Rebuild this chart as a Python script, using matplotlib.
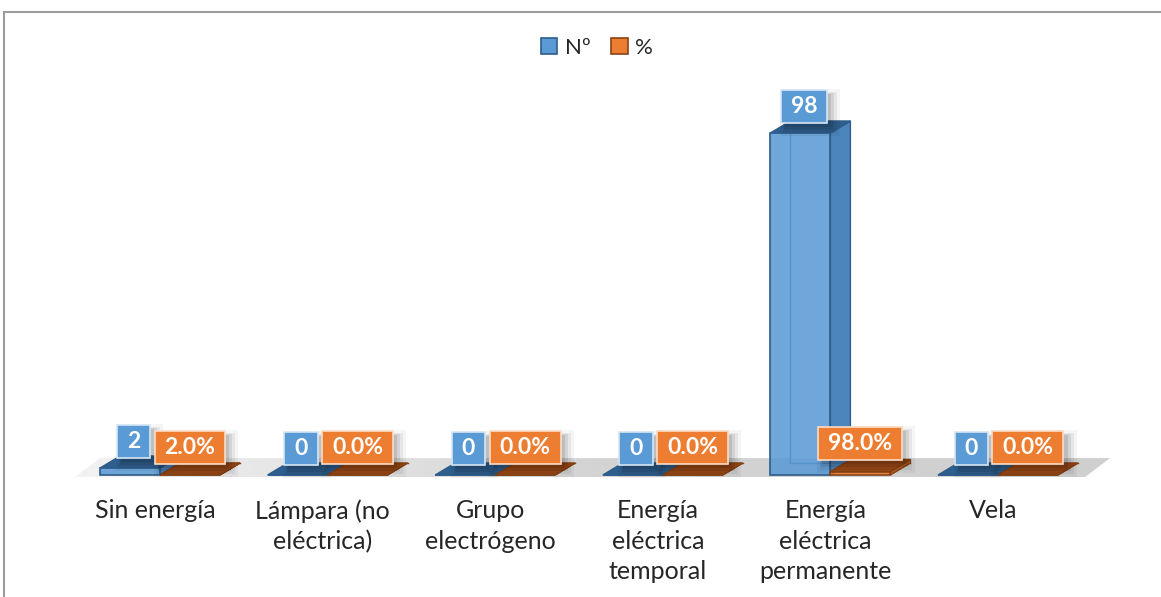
import matplotlib
matplotlib.use("Agg")
import matplotlib.pyplot as plt
import numpy as np
from matplotlib.patches import Polygon, Rectangle, Patch
from matplotlib.colors import to_rgba

# ---- data -------------------------------------------------------------
categories = ["Sin energía", "Lámpara (no\neléctrica)", "Grupo\nelectrógeno",
              "Energía\neléctrica\ntemporal", "Energía\neléctrica\npermanente", "Vela"]
counts = [2, 0, 0, 0, 98, 0]
shares = [0.02, 0.0, 0.0, 0.0, 0.98, 0.0]
series_names = ["Nº", "%"]

# ---- styling ----------------------------------------------------------
FONT = ["Lato", "DejaVu Sans"]
plt.rcParams["font.family"] = FONT

BLUE = dict(front="#5B9BD5", side="#4C84BC", top="#2F5F8F", edge="#2E5C8A",
            label="#5B9BD5", label_edge="#D6E6F5")
ORANGE = dict(front="#ED7D31", side="#B8601F", top="#9A4A17", edge="#8A4214",
              label="#ED7D31", label_edge="#FBDCC6")

W, H = 1161, 597
fig = plt.figure(figsize=(W / 100, H / 100), dpi=100)
ax = fig.add_axes([0, 0, 1, 1])

# layout scale: pixels per category step and per value unit
PX_CAT, PX_UNIT = 167.6, 3.49
X_ORIGIN, Y_ORIGIN = 130, 475
ax.set_xlim(-X_ORIGIN / PX_CAT, (W - X_ORIGIN) / PX_CAT)
ax.set_ylim(-(H - Y_ORIGIN) / PX_UNIT, Y_ORIGIN / PX_UNIT)
ax.axis("off")

bw = 60 / PX_CAT          # bar width
ddx = 20 / PX_CAT         # depth offset (x)
ddy = 12 / PX_UNIT        # depth offset (y)

# ---- floor ------------------------------------------------------------
fx0, fx1 = -55 / PX_CAT, 955 / PX_CAT
fy0, fdx, fdy = -0.6, 25 / PX_CAT, 19 / PX_UNIT
floor = Polygon([(fx0, fy0), (fx1, fy0), (fx1 + fdx, fy0 + fdy), (fx0 + fdx, fy0 + fdy)],
                closed=True, fc="none", ec="none", zorder=1)
ax.add_patch(floor)
grad = np.linspace(0, 1, 256).reshape(1, -1)
img = ax.imshow(grad, cmap=matplotlib.colors.LinearSegmentedColormap.from_list(
    "floor", ["#F2F2F2", "#D4D4D4", "#CFCFCF"]),
    extent=[fx0, fx1 + fdx, fy0, fy0 + fdy], aspect="auto", zorder=1, interpolation="bilinear")
img.set_clip_path(floor)


def draw_box(x0, x1, h, st, z):
    # edges at the back, seen through the translucent front
    ax.plot([x0 + ddx, x0 + ddx], [ddy, h + ddy], color=st["edge"], lw=1, zorder=z)
    ax.plot([x0 + ddx, x1 + ddx], [ddy, ddy], color=st["edge"], lw=1, zorder=z)
    ax.add_patch(Polygon([(x1, 0), (x1 + ddx, ddy), (x1 + ddx, h + ddy), (x1, h)],
                         closed=True, fc=st["side"], ec=st["edge"], lw=1, zorder=z + 0.1))
    ax.add_patch(Polygon([(x0, h), (x1, h), (x1 + ddx, h + ddy), (x0 + ddx, h + ddy)],
                         closed=True, fc=st["top"], ec=st["edge"], lw=1, zorder=z + 0.2))
    ax.add_patch(Rectangle((x0, 0), x1 - x0, h, fc=to_rgba(st["front"], 0.88),
                           ec=st["edge"], lw=1.2, zorder=z + 0.3))


labels = []
for i, (c, s) in enumerate(zip(counts, shares)):
    z = 3 + i
    draw_box(i - bw / 2, i + bw / 2, c, BLUE, z)
    draw_box(i + bw / 2, i + 1.5 * bw, s, ORANGE, z + 0.5)
    t1 = ax.text(i + 0.02, c + 7.5, f"{c:d}", ha="center", va="center",
                 color="white", fontsize=16.5, fontweight="bold", zorder=20)
    t2 = ax.text(i + bw, s + 8.0, f"{s:.1%}", ha="center", va="center",
                 color="white", fontsize=16.5, fontweight="bold", zorder=20)
    labels.append((t1, BLUE))
    labels.append((t2, ORANGE))
    ax.text(i + 0.15, -7.0, categories[i], ha="center", va="top", fontsize=18,
            color="#262626", linespacing=1.38, zorder=5)

# label boxes with a soft drop shadow
fig.canvas.draw()
renderer = fig.canvas.get_renderer()
inv = ax.transData.inverted()
for t, st in labels:
    bb = t.get_window_extent(renderer)
    cx, cy = (bb.x0 + bb.x1) / 2, (bb.y0 + bb.y1) / 2
    bwid, bhei = bb.width + 20, 33
    for off, grow, a in [(6, 7, 0.04), (6, 4, 0.06), (5, 2, 0.08), (4, 0, 0.10)]:
        (x0, y0) = inv.transform((cx - bwid / 2 + off - grow, cy - bhei / 2 - off - grow))
        (x1, y1) = inv.transform((cx + bwid / 2 + off + grow, cy + bhei / 2 - off + grow))
        ax.add_patch(Rectangle((x0, y0), x1 - x0, y1 - y0, fc="black", alpha=a,
                               lw=0, zorder=18))
    (x0, y0) = inv.transform((cx - bwid / 2, cy - bhei / 2))
    (x1, y1) = inv.transform((cx + bwid / 2, cy + bhei / 2))
    ax.add_patch(Rectangle((x0, y0), x1 - x0, y1 - y0, fc=st["label"],
                           ec=st["label_edge"], lw=1.2, zorder=19))

# legend
handles = [Patch(fc=BLUE["front"], ec=BLUE["edge"], lw=1.2),
           Patch(fc=ORANGE["front"], ec=ORANGE["edge"], lw=1.2)]
fig.legend(handles, series_names, loc="center", bbox_to_anchor=(597 / W, 1 - 48 / H),
           ncol=2, frameon=False, fontsize=16, handlelength=0.75, handleheight=0.75,
           columnspacing=0.9, handletextpad=0.35, labelcolor="#262626")

# chart frame
fig.patches.append(Rectangle((4 / W, -0.1), 1.2, 1.1 - 12 / H, transform=fig.transFigure,
                             fill=False, ec="#9C9C9C", lw=1.5))

fig.savefig("out.png", dpi=100)
